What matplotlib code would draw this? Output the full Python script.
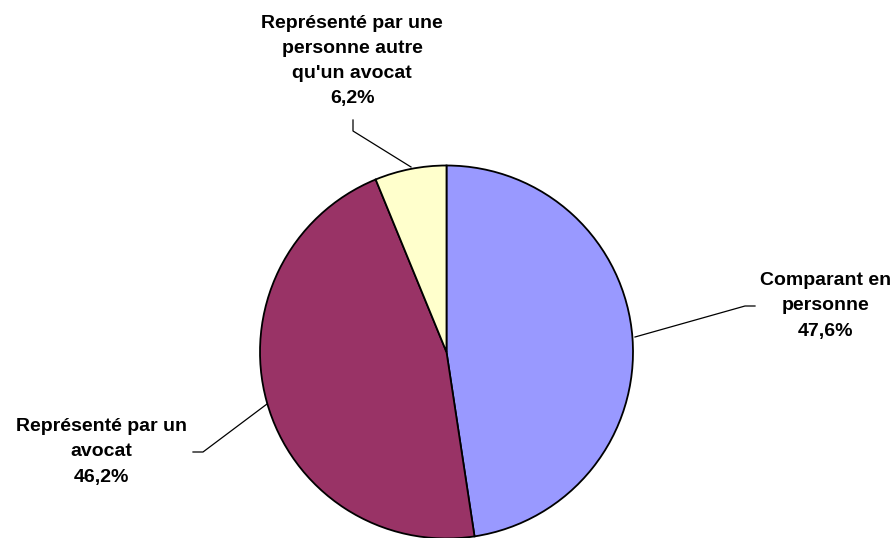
import matplotlib
matplotlib.use("Agg")
import matplotlib.pyplot as plt

labels = ["Comparant en\npersonne", "Représenté par un\navocat", "Représenté par une\npersonne autre\nqu'un avocat"]
values = [47.6, 46.2, 6.2]
colors = ["#9999FF", "#993366", "#FFFFCC"]

W, H = 896, 538
fig = plt.figure(figsize=(W / 100, H / 100), dpi=100)
ax = fig.add_axes([0, 0, 1, 1])

cx, cy, r = 446.5, H - 352, 186.5
ax.pie(values, colors=colors, startangle=90, counterclock=False,
       center=(cx, cy), radius=r, frame=True,
       wedgeprops=dict(edgecolor="black", linewidth=1.3))
ax.set_xlim(0, W)
ax.set_ylim(0, H)
ax.axis("off")

font = dict(family=["Liberation Sans", "DejaVu Sans"], fontweight="bold", fontsize=14,
            ha="center", va="center", linespacing=1.64)

def y(p):
    return H - p

texts = [f"{l}\n{v:.1f}%".replace(".", ",") for l, v in zip(labels, values)]
ax.text(826, y(306), texts[0], **font)
ax.text(101, y(452), texts[1], **font)
ax.text(352, y(61), texts[2], **font)

lw = 0.9
ax.plot([635, 745, 755], [y(337), y(306), y(306)], color="black", lw=lw)
ax.plot([267, 203, 193], [y(404), y(452), y(452)], color="black", lw=lw)
ax.plot([411, 353, 353], [y(167), y(131), y(120)], color="black", lw=lw)

fig.savefig("out.png", dpi=100)
